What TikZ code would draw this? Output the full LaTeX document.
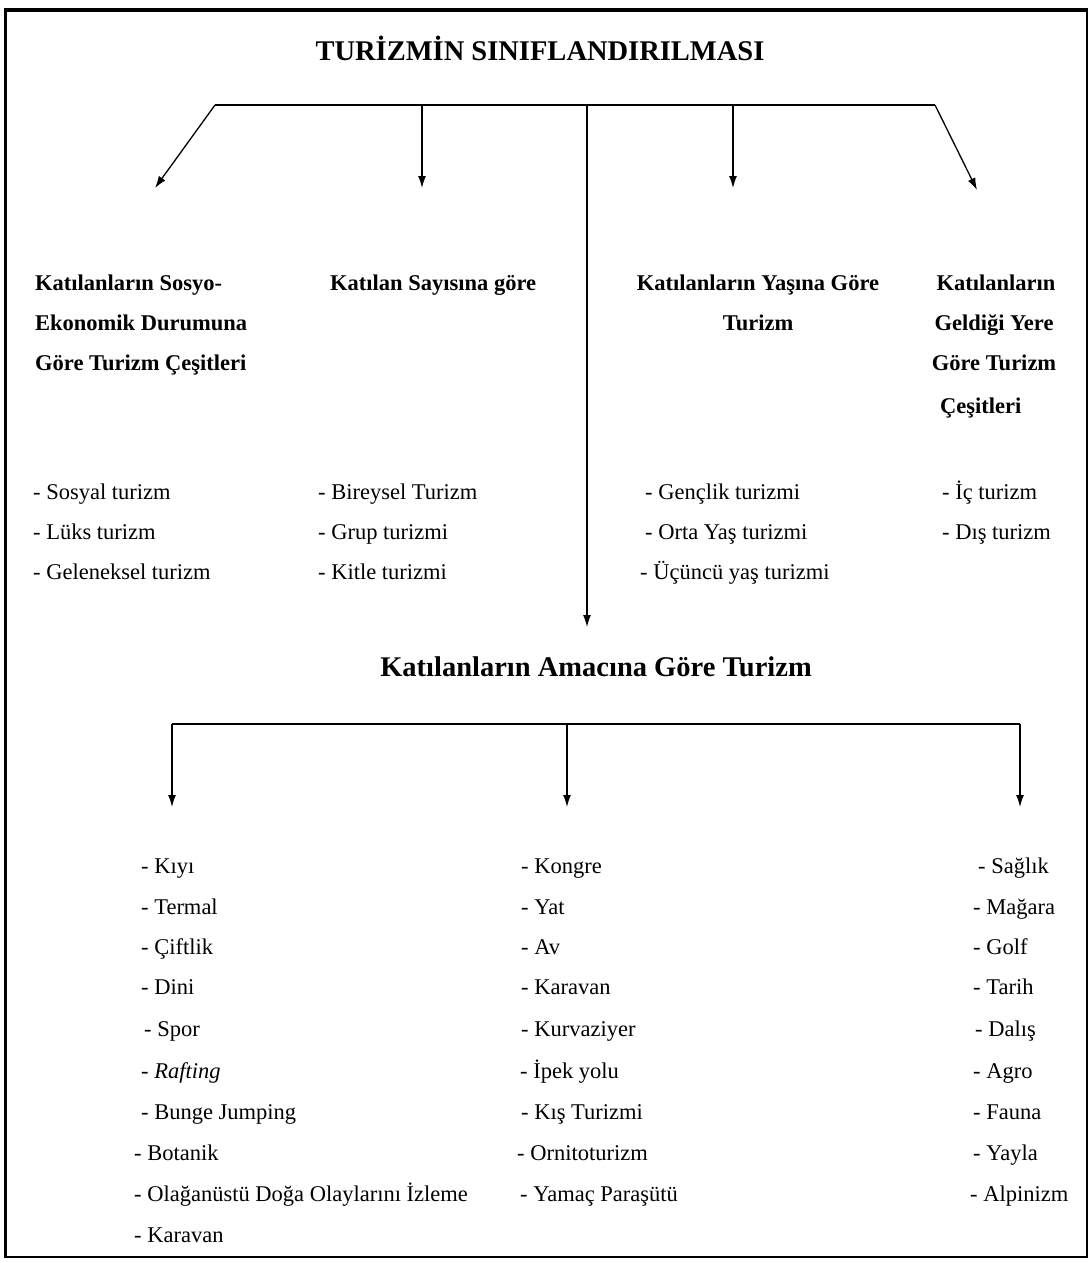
\documentclass[tikz,border=0pt]{standalone}
\usepackage{fontspec}
\setmainfont{Liberation Serif}
\usetikzlibrary{arrows.meta}
\tikzset{
  txt/.style={inner sep=0pt, anchor=base west, font=\fontsize{22.5}{26}\selectfont},
  hdr/.style={inner sep=0pt, anchor=base west, font=\fontsize{22.5}{26}\selectfont\bfseries},
  hdrc/.style={inner sep=0pt, anchor=base, font=\fontsize{22.5}{26}\selectfont\bfseries},
  big/.style={inner sep=0pt, anchor=base, font=\fontsize{28.5}{32}\selectfont\bfseries},
  conn/.style={line width=1.6pt},
  arr/.style={line width=1.3pt, -{Latex[length=12pt,width=8pt]}}
}
\begin{document}
\begin{tikzpicture}[x=1pt,y=-1pt]
\useasboundingbox (0,0) rectangle (1091,1263);
% frame
\draw[line width=2pt] (5,11) -- (1087,11) -- (1087,1257) -- (5,1257) -- cycle;
\draw[line width=3pt] (4,10) -- (1088,10);
\draw[line width=3pt] (5,10) -- (5,1257);
% title
\node[big] (title) at (540,60) {TURİZMİN SINIFLANDIRILMASI};
% top branch
\coordinate (tl) at (215,105);
\coordinate (tc2) at (422,105);
\coordinate (tc) at (587,105);
\coordinate (tc4) at (733,105);
\coordinate (tr) at (935,105);
\draw[conn] (tl) -- (tr);
\coordinate (a1) at (155,188);
\coordinate (a2) at (422,188);
\coordinate (a4) at (733,188);
\coordinate (a5) at (977,190);
\coordinate (a3) at (587,627);
\draw[arr] (tl) -- (a1);
\draw[arr] (tc2) -- (a2);
\draw[arr] (tc4) -- (a4);
\draw[arr] (tr) -- (a5);
\draw[arr] (tc) -- (a3);
% headers
\node[hdr] (h1a) at (35,290) {Katılanların Sosyo-};
\node[hdr] (h1b) at (35,330) {Ekonomik Durumuna};
\node[hdr] (h1c) at (35,370) {Göre Turizm Çeşitleri};
\node[hdr] (h2) at (330,290) {Katılan Sayısına göre};
\node[hdrc] (h3a) at (758,290) {Katılanların Yaşına Göre};
\node[hdrc] (h3b) at (758,330) {Turizm};
\node[hdrc] (h4a) at (996,290) {Katılanların};
\node[hdrc] (h4b) at (994,330) {Geldiği Yere};
\node[hdrc] (h4c) at (994,370) {Göre Turizm};
\node[hdr] (h4d) at (940,413) {Çeşitleri};
% upper lists
\node[txt] (l11) at (33,499) {- Sosyal turizm};
\node[txt] (l12) at (33,539) {- Lüks turizm};
\node[txt] (l13) at (33,579) {- Geleneksel turizm};
\node[txt] (l21) at (318,499) {- Bireysel Turizm};
\node[txt] (l22) at (318,539) {- Grup turizmi};
\node[txt] (l23) at (318,579) {- Kitle turizmi};
\node[txt] (l31) at (645,499) {- Gençlik turizmi};
\node[txt] (l32) at (645,539) {- Orta Yaş turizmi};
\node[txt] (l33) at (640,579) {- Üçüncü yaş turizmi};
\node[txt] (l41) at (942,499) {- İç turizm};
\node[txt] (l42) at (942,539) {- Dış turizm};
% centre heading
\node[big] (mid) at (596,676) {Katılanların Amacına Göre Turizm};
% bottom branch
\coordinate (bl) at (172,724);
\coordinate (bc) at (567,724);
\coordinate (br) at (1020,724);
\draw[conn] (bl) -- (br);
\coordinate (b1) at (172,807);
\coordinate (b2) at (567,807);
\coordinate (b3) at (1020,807);
\draw[arr] (bl) -- (b1);
\draw[arr] (bc) -- (b2);
\draw[arr] (br) -- (b3);
% bottom lists
\node[txt] (p1) at (141,873) {- Kıyı};
\node[txt] (p2) at (141,914) {- Termal};
\node[txt] (p3) at (141,954) {- Çiftlik};
\node[txt] (p4) at (141,994) {- Dini};
\node[txt] (p5) at (144,1036) {- Spor};
\node[txt] (p6) at (141,1078) {- \textit{Rafting}};
\node[txt] (p7) at (141,1119) {- Bunge Jumping};
\node[txt] (p8) at (134,1160) {- Botanik};
\node[txt] (p9) at (134,1201) {- Olağanüstü Doğa Olaylarını İzleme};
\node[txt] (p10) at (134,1242) {- Karavan};
\node[txt] (q1) at (521,873) {- Kongre};
\node[txt] (q2) at (521,914) {- Yat};
\node[txt] (q3) at (521,954) {- Av};
\node[txt] (q4) at (521,994) {- Karavan};
\node[txt] (q5) at (521,1036) {- Kurvaziyer};
\node[txt] (q6) at (520,1078) {- İpek yolu};
\node[txt] (q7) at (521,1119) {- Kış Turizmi};
\node[txt] (q8) at (517,1160) {- Ornitoturizm};
\node[txt] (q9) at (520,1201) {- Yamaç Paraşütü};
\node[txt] (r1) at (978,873) {- Sağlık};
\node[txt] (r2) at (973,914) {- Mağara};
\node[txt] (r3) at (973,954) {- Golf};
\node[txt] (r4) at (973,994) {- Tarih};
\node[txt] (r5) at (975,1036) {- Dalış};
\node[txt] (r6) at (973,1078) {- Agro};
\node[txt] (r7) at (973,1119) {- Fauna};
\node[txt] (r8) at (973,1160) {- Yayla};
\node[txt] (r9) at (970,1201) {- Alpinizm};
\end{tikzpicture}
\end{document}
